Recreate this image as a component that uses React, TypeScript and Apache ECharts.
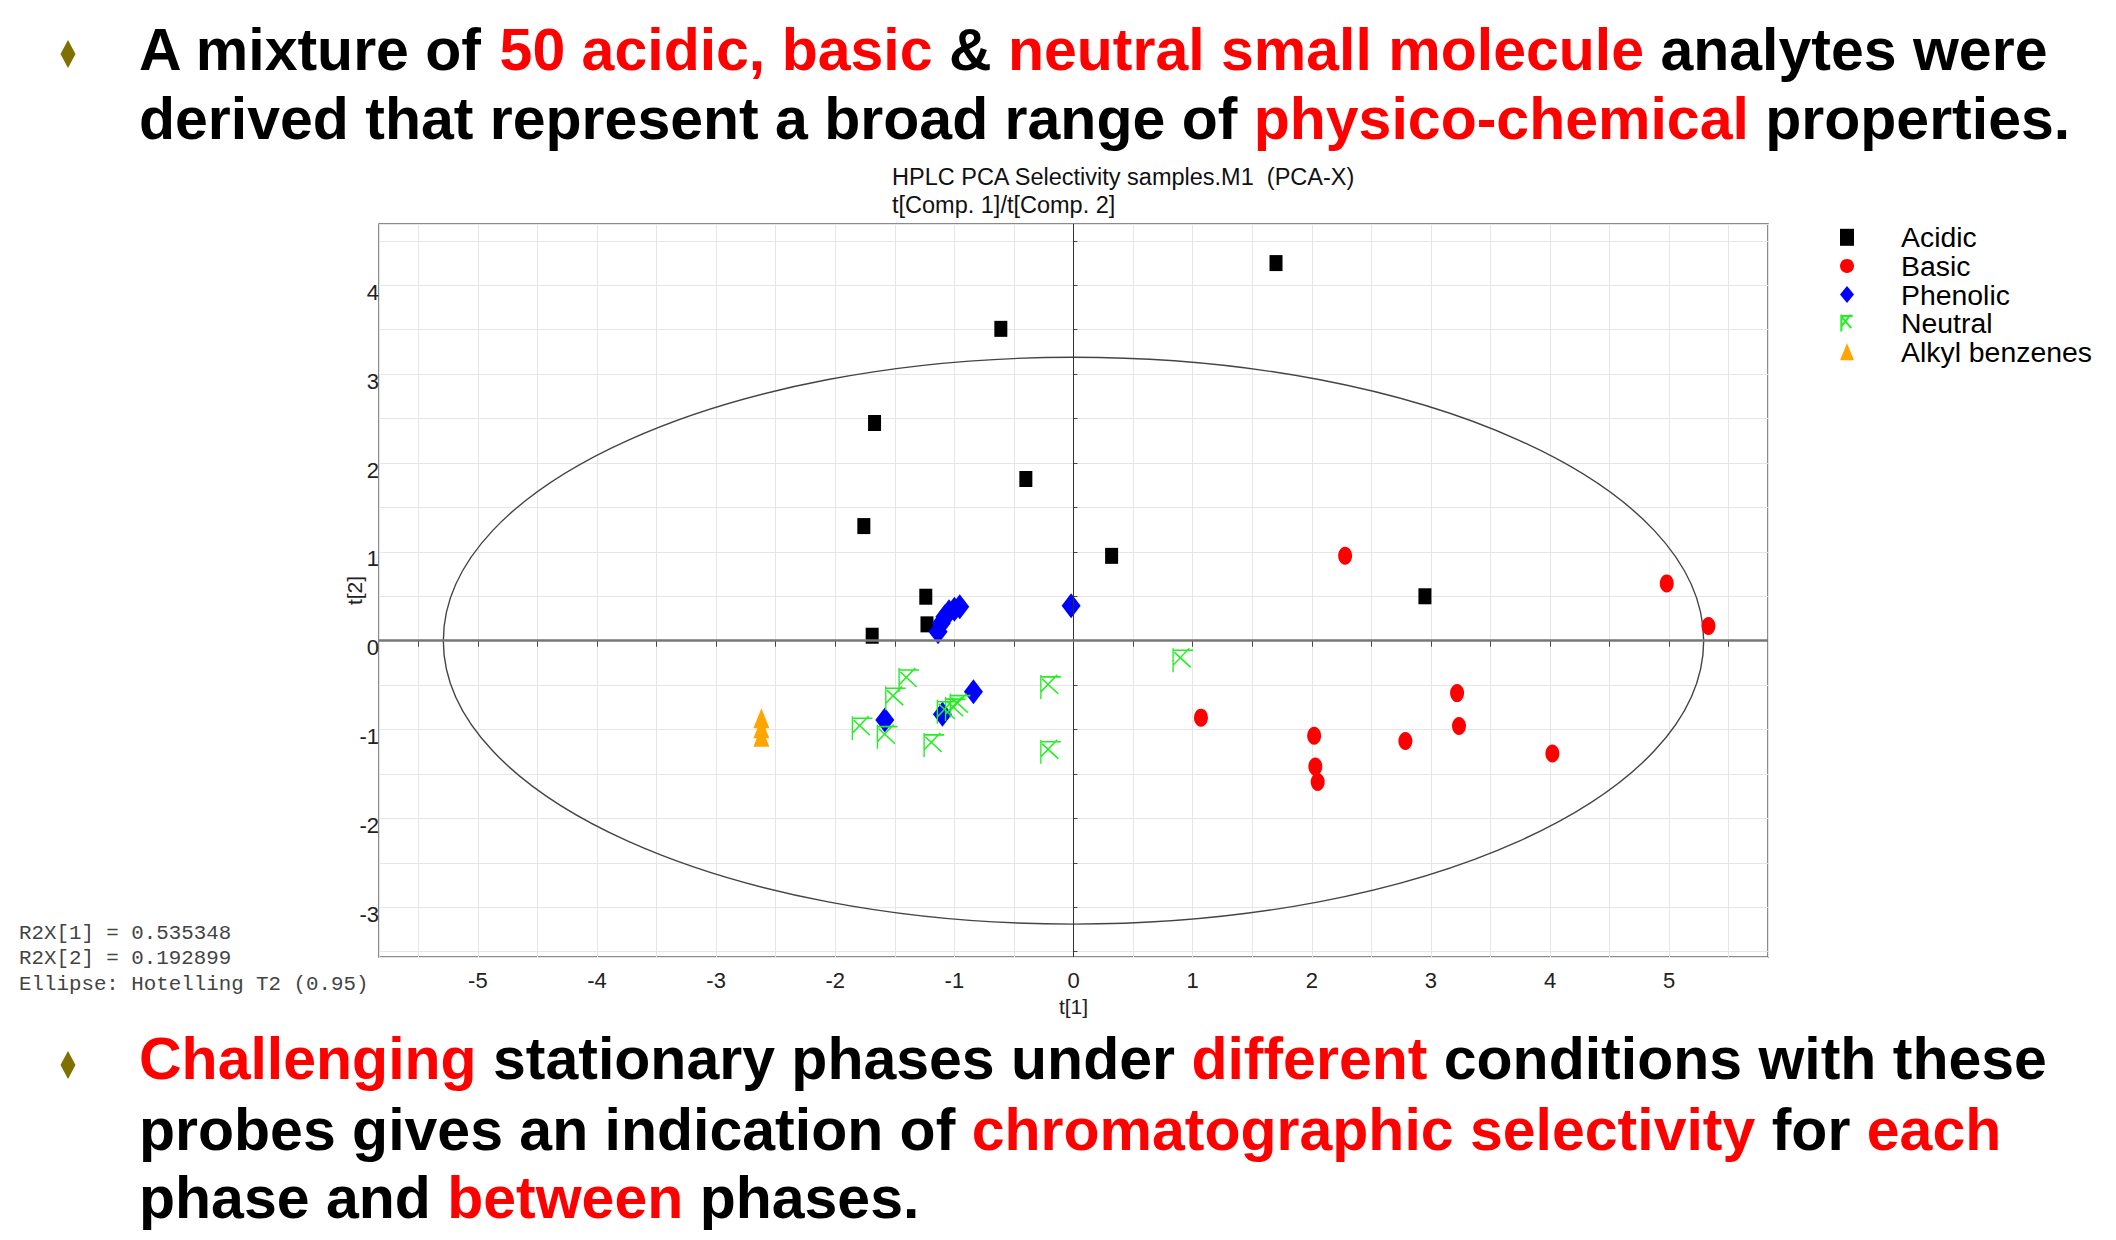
import React, { useEffect, useRef } from "react";
import * as echarts from "echarts";

// ---------- data (t[1], t[2] scores) ----------
const acidicPoints: number[][] = [
  [1.7, 4.25], [-0.61, 3.51], [-1.67, 2.45], [-0.4, 1.82], [-1.76, 1.29],
  [0.32, 0.955], [2.95, 0.5], [-1.24, 0.495], [-1.23, 0.184], [-1.69, 0.056],
];
const basicPoints: number[][] = [
  [2.28, 0.956], [4.98, 0.645], [5.33, 0.165], [3.22, -0.59], [1.07, -0.866],
  [2.02, -1.07], [3.236, -0.96], [2.786, -1.128], [2.03, -1.417], [2.05, -1.59],
  [4.02, -1.27],
];
const phenolicPoints: number[][] = [
  [-0.02, 0.394], [-1.137, 0.1], [-1.11, 0.196], [-1.08, 0.27], [-1.045, 0.326],
  [-1.0, 0.353], [-0.955, 0.383], [-1.584, -0.892], [-1.1, -0.828], [-0.84, -0.574],
];
const neutralPoints: number[][] = [
  [-1.772, -0.985], [-1.562, -1.08], [-1.492, -0.648], [-1.38, -0.442], [-1.17, -1.173],
  [-1.059, -0.8], [-0.99, -0.77], [-0.95, -0.73], [-0.19, -0.52], [-0.19, -1.25],
  [0.92, -0.22],
];
const alkylPoints: number[][] = [
  [-2.62, -0.873], [-2.62, -0.986], [-2.62, -1.08],
];

const seriesNames = ["Acidic", "Basic", "Phenolic", "Neutral", "Alkyl benzenes"];
const ellipseCenter = [0, 0];
const ellipseSemiAxes = [5.29, 3.19];
const xRange = [-5.83, 5.83];
const yRange = [-3.56, 4.69];
const chartTitle = ["HPLC PCA Selectivity samples.M1  (PCA-X)", "t[Comp. 1]/t[Comp. 2]"];
const statsLines = ["R2X[1] = 0.535348", "R2X[2] = 0.192899", "Ellipse: Hotelling T2 (0.95)"];

const topLines = [
  "{k|A mixture of }{r|50 acidic, basic}{k| & }{r|neutral small molecule}{k| analytes were}",
  "{k|derived that represent a broad range of }{r|physico-chemical}{k| properties.}",
];
const bottomLines = [
  "{r|Challenging}{k| stationary phases under }{r|different}{k| conditions with these}",
  "{k|probes gives an indication of }{r|chromatographic selectivity}{k| for }{r|each}",
  "{k|phase and }{r|between}{k| phases.}",
];

const NEUTRAL_SYMBOL = "path://M2 0 L2 24 M2 2 L18 2 M2 17 L15 0 M3 4 L16 19";
const SANS = "Liberation Sans";

const isInt = (v: number) => Math.abs(v - Math.round(v)) < 1e-6;
const tickFmt = (v: number) => (isInt(v) ? String(Math.round(v)) : "");

export default function App() {
  const ref = useRef<HTMLDivElement>(null);

  useEffect(() => {
    if (!ref.current) return;
    const chart = echarts.init(ref.current, undefined, { renderer: "svg" });

    const richStyles = {
      k: { fill: "#000000", fontSize: 59, fontFamily: SANS, fontWeight: "bold" },
      r: { fill: "#ff0000", fontSize: 59, fontFamily: SANS, fontWeight: "bold" },
    };
    const headingText = (txt: string, x: number, y: number) => ({
      type: "text",
      x,
      y,
      silent: true,
      style: {
        text: txt,
        rich: richStyles,
        fontSize: 59,
        fontFamily: SANS,
        fontWeight: "bold",
        verticalAlign: "middle",
        align: "left",
      },
    });
    const bullet = (cx: number, cy: number) => ({
      type: "polygon",
      silent: true,
      shape: { points: [[cx, cy - 14], [cx + 7.5, cy], [cx, cy + 14], [cx - 7.5, cy]] },
      style: { fill: "#807000" },
    });

    const graphics: any[] = [
      bullet(68, 54),
      headingText(topLines[0], 139, 50),
      headingText(topLines[1], 139, 119),
      bullet(68, 1065),
      headingText(bottomLines[0], 139, 1059),
      headingText(bottomLines[1], 139, 1130),
      headingText(bottomLines[2], 139, 1198),
      ...statsLines.map((t, i) => ({
        type: "text",
        x: 19,
        y: 933 + i * 25.6,
        silent: true,
        style: {
          text: t,
          fontSize: 20.8,
          fontFamily: "Liberation Mono",
          fill: "#444",
          verticalAlign: "middle",
        },
      })),
    ];

    const scatterBase = { type: "scatter", xAxisIndex: 0, yAxisIndex: 0, z: 3 };

    chart.setOption({
      animation: false,
      backgroundColor: "#ffffff",
      title: {
        text: chartTitle.join("\n"),
        left: 887,
        top: 158,
        textStyle: {
          fontFamily: SANS,
          fontSize: 23.5,
          fontWeight: "normal",
          color: "#111",
          lineHeight: 28,
        },
      },
      legend: {
        orient: "vertical",
        left: 1835,
        top: 218,
        itemWidth: 14,
        itemHeight: 17,
        itemGap: 0,
        selectedMode: false,
        data: seriesNames,
        textStyle: {
          fontFamily: SANS,
          fontSize: 28.4,
          color: "#000",
          lineHeight: 28.6,
          padding: [0, 0, 0, 42],
        },
      },
      grid: {
        left: 379,
        top: 224,
        width: 1389,
        height: 733,
        show: true,
        borderColor: "#666",
        borderWidth: 1.5,
        backgroundColor: "transparent",
      },
      xAxis: {
        type: "value",
        min: xRange[0],
        max: xRange[1],
        splitNumber: 20,
        minInterval: 0.5,
        maxInterval: 0.5,
        axisLine: { show: false },
        axisTick: { show: true, inside: false, length: 6, lineStyle: { color: "#444" } },
        axisLabel: {
          formatter: tickFmt,
          fontFamily: SANS,
          fontSize: 22,
          color: "#222",
          margin: 12,
          showMinLabel: false,
          showMaxLabel: false,
        },
        splitLine: { show: true, lineStyle: { color: "#e6e6e6", width: 1 } },
        name: "t[1]",
        nameLocation: "middle",
        nameGap: 39,
        nameMoveOverlap: false,
        nameTextStyle: { fontFamily: SANS, fontSize: 21, color: "#222" },
      },
      yAxis: {
        type: "value",
        min: yRange[0],
        max: yRange[1],
        splitNumber: 16,
        minInterval: 0.5,
        maxInterval: 0.5,
        axisLine: { show: false },
        axisTick: { show: true, inside: true, length: 4, lineStyle: { color: "#444" } },
        axisLabel: {
          formatter: tickFmt,
          fontFamily: SANS,
          fontSize: 22,
          color: "#222",
          margin: 0,
          verticalAlign: "top",
          lineHeight: 14,
          showMinLabel: false,
          showMaxLabel: false,
        },
        splitLine: { show: true, lineStyle: { color: "#e6e6e6", width: 1 } },
        name: "t[2]",
        nameLocation: "middle",
        nameRotate: 90,
        nameGap: 14,
        nameMoveOverlap: false,
        nameTextStyle: { fontFamily: SANS, fontSize: 21, color: "#222" },
      },
      series: [
        {
          name: "ellipse",
          type: "custom",
          coordinateSystem: "cartesian2d",
          silent: true,
          z: 2,
          data: [ellipseCenter],
          renderItem: (params: any, api: any) => {
            const c = api.coord([api.value(0), api.value(1)]);
            const s = api.size(ellipseSemiAxes, [api.value(0), api.value(1)]);
            return {
              type: "ellipse",
              shape: { cx: c[0], cy: c[1], rx: s[0], ry: s[1] },
              style: { fill: "none", stroke: "#444", lineWidth: 1.4 },
            };
          },
          markLine: {
            silent: true,
            symbol: "none",
            label: { show: false },
            data: [
              { xAxis: 0, lineStyle: { color: "#333", width: 1, type: "solid" } },
              { yAxis: 0, lineStyle: { color: "#777", width: 2.5, type: "solid" } },
            ],
          },
        },
        {
          ...scatterBase,
          name: seriesNames[0],
          symbol: "rect",
          symbolSize: [13, 16],
          itemStyle: { color: "#000000", opacity: 1 },
          data: acidicPoints,
        },
        {
          ...scatterBase,
          name: seriesNames[1],
          symbol: "circle",
          symbolSize: [14, 18],
          itemStyle: { color: "#ff0000", opacity: 1 },
          data: basicPoints,
        },
        {
          ...scatterBase,
          name: seriesNames[2],
          symbol: "diamond",
          symbolSize: [19, 25],
          itemStyle: { color: "#0000ff", opacity: 1 },
          data: phenolicPoints,
        },
        {
          ...scatterBase,
          name: seriesNames[3],
          symbol: NEUTRAL_SYMBOL,
          symbolSize: [20, 24],
          itemStyle: {
            color: "rgba(0,0,0,0)",
            borderColor: "#22ee22",
            borderWidth: 1.5,
            opacity: 1,
          },
          data: neutralPoints,
        },
        {
          ...scatterBase,
          name: seriesNames[4],
          symbol: "triangle",
          symbolSize: [16, 20],
          itemStyle: { color: "#ffa500", opacity: 1 },
          data: alkylPoints,
        },
      ],
      graphic: graphics,
    });

    return () => chart.dispose();
  }, []);

  return (
    <div
      ref={ref}
      style={{ position: "absolute", left: 0, top: 0, width: 2116, height: 1240 }}
    />
  );
}
